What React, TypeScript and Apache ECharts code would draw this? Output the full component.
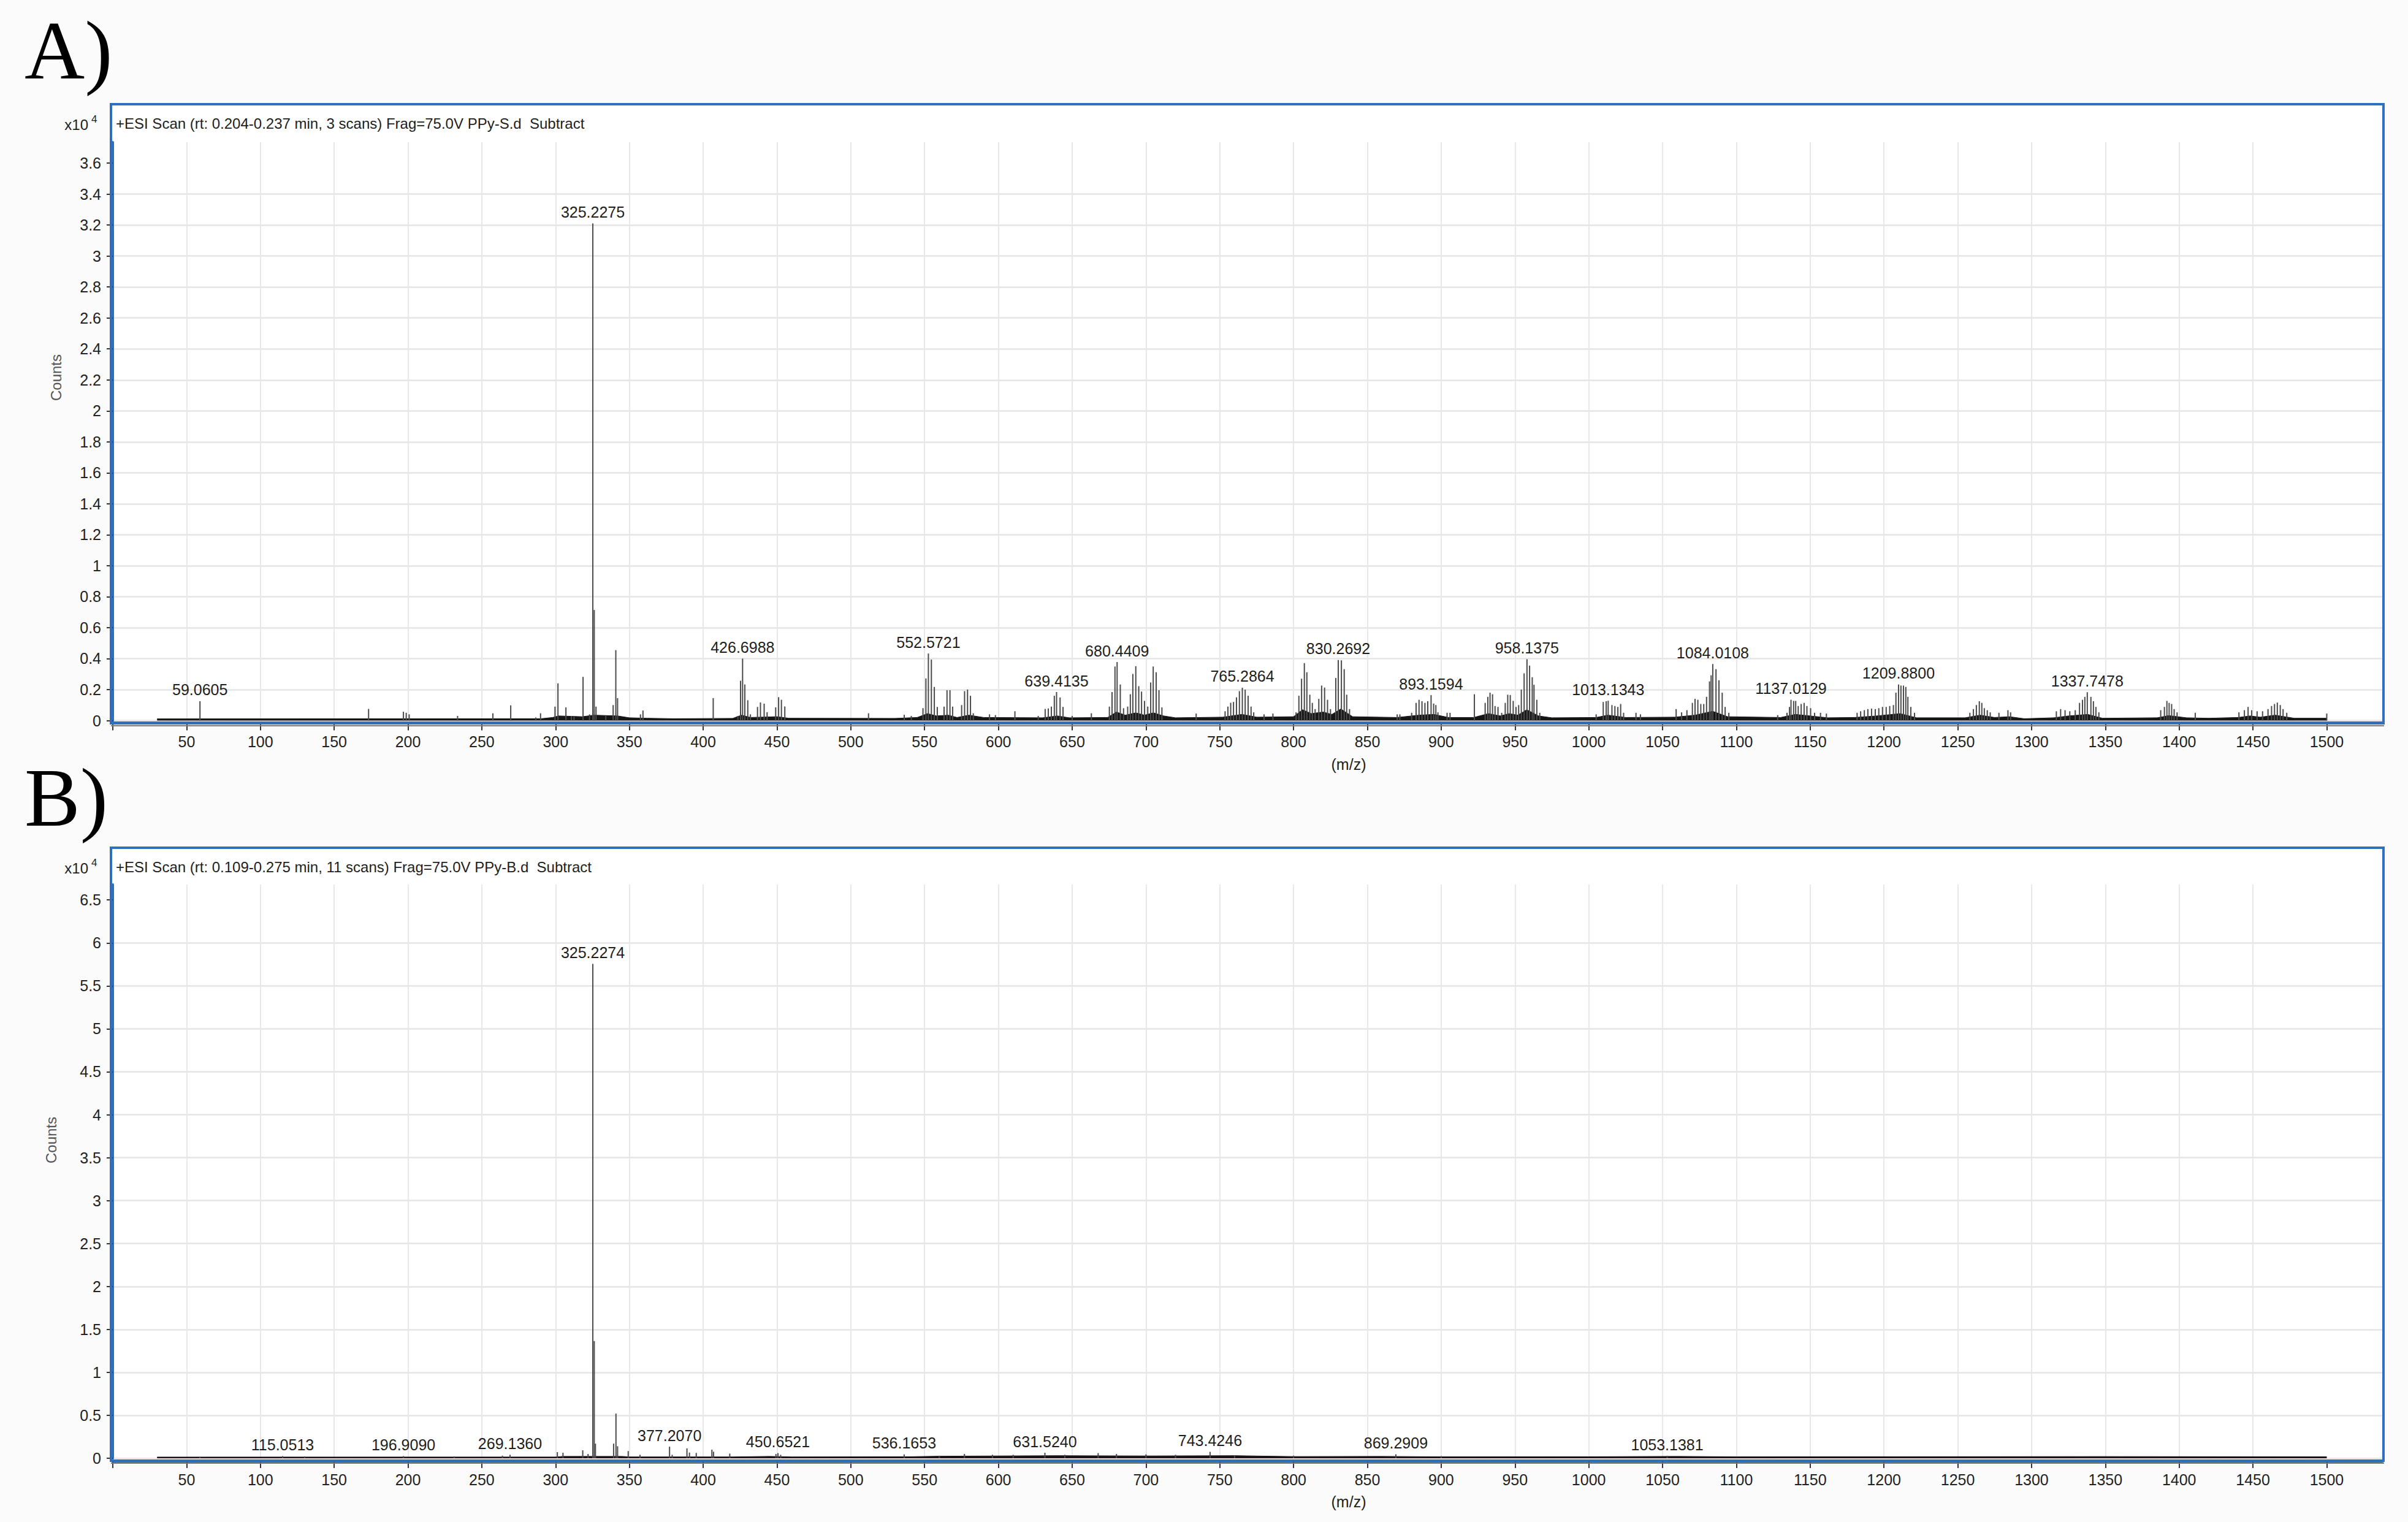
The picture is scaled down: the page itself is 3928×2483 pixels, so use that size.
import React, { useEffect, useRef } from "react";
import * as echarts from "echarts";

// ---------- tick labels ----------
const xTicks = [0, 50, 100, 150, 200, 250, 300, 350, 400, 450, 500, 550, 600, 650, 700, 750, 800, 850, 900, 950, 1000, 1050, 1100, 1150, 1200, 1250, 1300, 1350, 1400, 1450, 1500];
const yTicksA = [0, 0.2, 0.4, 0.6, 0.8, 1, 1.2, 1.4, 1.6, 1.8, 2, 2.2, 2.4, 2.6, 2.8, 3, 3.2, 3.4, 3.6];
const yTicksB = [0, 0.5, 1, 1.5, 2, 2.5, 3, 3.5, 4, 4.5, 5, 5.5, 6, 6.5];

const titleA = "+ESI Scan (rt: 0.204-0.237 min, 3 scans) Frag=75.0V PPy-S.d  Subtract";
const titleB = "+ESI Scan (rt: 0.109-0.275 min, 11 scans) Frag=75.0V PPy-B.d  Subtract";

// ---------- spectrum A (x10^4 counts) ----------
const lowMassA = [[59.0605, 0.125], [173.3, 0.075], [196.9, 0.057], [198.8, 0.05], [200.8, 0.04], [233.6, 0.03], [257.5, 0.047], [269.6, 0.098], [286.6, 0.02], [289.8, 0.047], [299.6, 0.09], [301.6, 0.24], [307, 0.085], [310.7, 0.03], [312.5, 0.03], [318.6, 0.282], [323, 0.04], [325.2275, 3.21], [326.2, 0.714], [327.4, 0.09], [334, 0.03], [339, 0.1], [340.8, 0.455], [342, 0.145], [357.5, 0.04], [359.2, 0.065], [406.8, 0.145]];
const clusterA426 = [[423.5, 0.03], [425.3, 0.257], [426.6988, 0.4], [428.2, 0.233], [430.2, 0.131], [432, 0.04], [436.8, 0.088], [438.8, 0.117], [441.3, 0.109], [443.3, 0.054], [449.1, 0.085], [451.1, 0.151], [453, 0.134], [455.3, 0.091]];
const clusterA552 = [[512, 0.047], [536.2, 0.037], [541, 0.03], [548.9, 0.08], [550.9, 0.272], [552.5721, 0.433], [554.6, 0.394], [556.6, 0.217], [558.6, 0.088], [563.2, 0.09], [565.2, 0.196], [567.2, 0.196], [569, 0.09], [575.1, 0.1], [577.1, 0.19], [579.1, 0.2], [581.1, 0.16], [583, 0.047], [594, 0.04], [598, 0.035], [611.2, 0.06]];
const clusterA639 = [[627, 0.03], [631.7, 0.075], [633.8, 0.078], [635.9, 0.09], [637.9, 0.16], [639.4135, 0.184], [641.8, 0.149], [643.8, 0.088], [650, 0.03], [663, 0.047]];
const clusterA680 = [[675.2, 0.09], [677, 0.184], [679, 0.349], [680.4409, 0.378], [682.6, 0.233], [684.8, 0.08], [687.6, 0.09], [689.4, 0.17], [691.1, 0.301], [693.1, 0.351], [695.1, 0.222], [697, 0.187], [699, 0.127], [701.2, 0.09], [703.2, 0.246], [704.9, 0.349], [706.9, 0.312], [708.8, 0.196], [710.8, 0.085], [734, 0.045]];
const clusterA765 = [[753.6, 0.06], [755.5, 0.09], [757.4, 0.115], [759.3, 0.12], [761.3, 0.15], [763.3, 0.19], [765.2864, 0.212], [767.2, 0.2], [769.2, 0.16], [771.2, 0.09], [773, 0.053], [780, 0.04], [786, 0.045]];
const clusterA830 = [[801.7, 0.053], [803.6, 0.16], [805.4, 0.27], [807.3, 0.371], [809, 0.312], [811, 0.167], [812.7, 0.114], [814.6, 0.074], [817.1, 0.14], [819, 0.226], [821, 0.213], [823, 0.134], [825, 0.074], [828.6, 0.275], [830.2692, 0.391], [832.4, 0.389], [834.3, 0.332], [836, 0.167], [837.9, 0.074]];
const clusterA893 = [[870.2, 0.04], [872, 0.04], [880, 0.05], [883, 0.114], [885, 0.134], [887, 0.125], [889, 0.114], [890.9, 0.125], [893.1594, 0.164], [894.9, 0.11], [896.4, 0.1], [897.8, 0.053], [904, 0.05], [906, 0.05]];
const clusterA958 = [[922.5, 0.17], [929.8, 0.114], [931.6, 0.153], [933.1, 0.18], [934.8, 0.17], [936.5, 0.094], [938.5, 0.088], [941, 0.05], [943.4, 0.114], [945.1, 0.167], [946.8, 0.165], [948.8, 0.127], [950.7, 0.088], [952.5, 0.1], [954.3, 0.2], [956.2, 0.305], [958.1375, 0.396], [959.9, 0.355], [961.7, 0.28], [962.9, 0.231], [964.8, 0.134], [966.8, 0.05]];
const clusterA1013 = [[1005, 0.04], [1009.8, 0.12], [1011.8, 0.125], [1013.1343, 0.128], [1015.7, 0.1], [1017.7, 0.094], [1019.7, 0.088], [1021.6, 0.107], [1023.6, 0.05], [1032, 0.05], [1035, 0.04]];
const clusterA1084 = [[1059.2, 0.074], [1062.9, 0.053], [1066.5, 0.067], [1070.2, 0.114], [1072, 0.14], [1073.9, 0.134], [1075.9, 0.107], [1077.9, 0.107], [1079.8, 0.153], [1081.8, 0.253], [1082.9, 0.292], [1084.0108, 0.365], [1086.2, 0.332], [1088.2, 0.26], [1090.4, 0.18], [1092.4, 0.088], [1094.9, 0.05]];
const clusterA1137 = [[1128, 0.035], [1134.3, 0.05], [1136, 0.088], [1137.0129, 0.134], [1138.8, 0.127], [1140.2, 0.127], [1141.9, 0.094], [1143.9, 0.107], [1145.9, 0.114], [1147.8, 0.094], [1150.3, 0.08], [1153, 0.05], [1157, 0.05], [1161, 0.045]];
const clusterA1209 = [[1181.8, 0.05], [1184.2, 0.06], [1186.7, 0.067], [1189.1, 0.074], [1191.6, 0.077], [1194.1, 0.074], [1196.5, 0.08], [1199, 0.088], [1201.5, 0.088], [1203.9, 0.094], [1206.4, 0.1], [1208.1, 0.18], [1209.88, 0.233], [1211.5, 0.226], [1213.2, 0.226], [1214.8, 0.217], [1216.2, 0.153], [1218.2, 0.088], [1220.7, 0.05]];
const clusterA1265 = [[1258.2, 0.05], [1260.6, 0.074], [1262.6, 0.1], [1264.6, 0.125], [1266.3, 0.114], [1268, 0.08], [1270, 0.067], [1272, 0.053], [1277.9, 0.05], [1284, 0.067], [1285.8, 0.053]];
const clusterA1337 = [[1316.8, 0.06], [1319.7, 0.074], [1322.7, 0.067], [1325.9, 0.06], [1329.6, 0.067], [1332.5, 0.114], [1334.5, 0.134], [1336.1, 0.153], [1337.7478, 0.183], [1340.2, 0.153], [1341.9, 0.125], [1343.6, 0.088], [1345.6, 0.053]];
const clusterA1392 = [[1387.5, 0.067], [1390, 0.088], [1391.7, 0.127], [1393.2, 0.114], [1394.9, 0.107], [1396.6, 0.074], [1398.6, 0.053], [1410.9, 0.05]];
const clusterA1460 = [[1440.5, 0.053], [1444.2, 0.067], [1446.7, 0.088], [1449.1, 0.067], [1452.8, 0.06], [1456.5, 0.06], [1460.2, 0.074], [1462.6, 0.094], [1464.6, 0.107], [1466.5, 0.116], [1468.5, 0.1], [1470.4, 0.074], [1472.9, 0.05], [1500, 0.045]];

const labelsA = [59.0605, 325.2275, 426.6988, 552.5721, 639.4135, 680.4409, 765.2864, 830.2692, 893.1594, 958.1375, 1013.1343, 1084.0108, 1137.0129, 1209.88, 1337.7478];

// baseline noise envelope of spectrum A
const noiseA = [[30, 0.011], [290, 0.012], [298, 0.02], [302, 0.03], [318, 0.025], [326, 0.035], [342, 0.03], [350, 0.018], [362, 0.015], [380, 0.012], [420, 0.014], [426, 0.035], [432, 0.02], [450, 0.025], [458, 0.015], [530, 0.014], [545, 0.02], [552, 0.045], [558, 0.03], [566, 0.035], [572, 0.02], [580, 0.035], [590, 0.02], [630, 0.018], [640, 0.03], [648, 0.018], [674, 0.02], [680, 0.055], [686, 0.035], [693, 0.05], [699, 0.035], [705, 0.05], [712, 0.03], [720, 0.018], [752, 0.022], [765, 0.04], [775, 0.022], [800, 0.025], [806, 0.07], [812, 0.045], [820, 0.055], [826, 0.04], [832, 0.075], [840, 0.025], [870, 0.02], [885, 0.035], [895, 0.04], [905, 0.02], [922, 0.02], [932, 0.045], [940, 0.03], [946, 0.045], [952, 0.035], [958, 0.07], [966, 0.03], [975, 0.018], [1005, 0.02], [1013, 0.035], [1025, 0.02], [1058, 0.022], [1072, 0.035], [1084, 0.06], [1094, 0.025], [1130, 0.02], [1140, 0.04], [1150, 0.03], [1162, 0.018], [1180, 0.02], [1195, 0.03], [1211, 0.045], [1222, 0.018], [1255, 0.018], [1265, 0.035], [1275, 0.02], [1285, 0.025], [1295, 0.012], [1315, 0.018], [1325, 0.03], [1338, 0.04], [1348, 0.015], [1385, 0.018], [1393, 0.032], [1405, 0.018], [1420, 0.015], [1440, 0.02], [1448, 0.03], [1455, 0.022], [1465, 0.035], [1478, 0.015], [1500, 0.015]];

// ---------- spectrum B (x10^4 counts) ----------
const peaksB = [[59, 0.015], [115.0513, 0.025], [130, 0.02], [196.909, 0.025], [231.3, 0.02], [264, 0.03], [269.136, 0.04], [301.2, 0.071], [305, 0.064], [318.4, 0.093], [322, 0.05], [325.2274, 5.755], [326.2, 1.365], [327, 0.17], [339.3, 0.17], [340.9, 0.52], [342, 0.14], [349.2, 0.084], [357.2, 0.04], [377.207, 0.135], [379, 0.04], [389, 0.115], [390.7, 0.066], [395.3, 0.062], [405.9, 0.1], [407, 0.076], [418, 0.054], [449.3, 0.05], [450.6521, 0.06], [452.5, 0.04], [536.1653, 0.045], [560, 0.03], [577, 0.05], [596, 0.04], [610, 0.04], [631.524, 0.064], [645, 0.04], [667.6, 0.06], [680, 0.05], [700, 0.045], [720, 0.04], [743.4246, 0.075], [760, 0.035], [800, 0.03], [869.2909, 0.046], [900, 0.025], [1053.1381, 0.028]];
const labelsB = [115.0513, 196.909, 269.136, 325.2274, 377.207, 450.6521, 536.1653, 631.524, 743.4246, 869.2909, 1053.1381];
const noiseB = [[30, 0.014], [300, 0.015], [305, 0.022], [345, 0.022], [350, 0.016], [420, 0.016], [445, 0.022], [460, 0.016], [540, 0.018], [560, 0.024], [600, 0.027], [640, 0.03], [700, 0.027], [760, 0.03], [800, 0.02], [860, 0.022], [900, 0.017], [1000, 0.018], [1060, 0.022], [1100, 0.017], [1350, 0.02], [1500, 0.017]];

const peaksA = [...lowMassA, ...clusterA426, ...clusterA552, ...clusterA639, ...clusterA680, ...clusterA765, ...clusterA830, ...clusterA893, ...clusterA958, ...clusterA1013, ...clusterA1084, ...clusterA1137, ...clusterA1209, ...clusterA1265, ...clusterA1337, ...clusterA1392, ...clusterA1460];

const FONT = '"Liberation Sans", Arial, sans-serif';
const SERIF = '"Liberation Serif", "Times New Roman", serif';
const BLUE = "#2e6fc0";

function tickFmt(list: number[]) {
  return (v: number) => {
    const t = list.find((x) => Math.abs(x - v) < 1e-6);
    return t === undefined ? "" : String(t);
  };
}

function makeX(gridIndex: number) {
  return {
    type: "value",
    gridIndex,
    min: 0,
    max: 1537.6,
    interval: 50,
    offset: 4,
    axisLine: { show: true, onZero: false, lineStyle: { color: BLUE, width: 5 } },
    axisTick: { show: true, length: 12, customValues: xTicks, lineStyle: { color: "#333", width: 2 } },
    axisLabel: {
      fontSize: 25,
      color: "#222",
      margin: 18,
      fontFamily: FONT,
      formatter: (v: number) => (v > 0 ? tickFmt(xTicks)(v) : ""),
    },
    splitLine: { show: true, showMinLine: false, showMaxLine: false, lineStyle: { color: "#e8e8e8", width: 2 } },
  };
}

function makeY(gridIndex: number, max: number, interval: number, ticks: number[]) {
  return {
    type: "value",
    gridIndex,
    min: 0,
    max,
    interval,
    offset: 3,
    axisLine: { show: true, lineStyle: { color: BLUE, width: 4 } },
    axisTick: { show: true, length: 10, customValues: ticks, lineStyle: { color: "#333", width: 2 } },
    axisLabel: { fontSize: 25, color: "#222", margin: 16, fontFamily: FONT, formatter: tickFmt(ticks) },
    splitLine: { show: true, showMaxLine: false, lineStyle: { color: "#e4e4e4", width: 2.5 } },
  };
}

function barData(peaks: number[][], labels: number[]) {
  return peaks.map((p) =>
    labels.includes(p[0]) ? { value: p, label: { show: true } } : p
  );
}

function peakSeries(idx: number, peaks: number[][], labels: number[]) {
  return {
    type: "bar",
    xAxisIndex: idx,
    yAxisIndex: idx,
    barWidth: 2,
    data: barData(peaks, labels),
    itemStyle: { color: "#4a4a4a" },
    z: 4,
    label: {
      show: false,
      position: "top",
      distance: 6,
      fontSize: 25,
      color: "#1e1e1e",
      fontFamily: FONT,
      formatter: (p: any) => Number(p.value[0]).toFixed(4),
    },
  };
}

function noiseSeries(idx: number, data: number[][]) {
  return {
    type: "line",
    xAxisIndex: idx,
    yAxisIndex: idx,
    data,
    symbol: "none",
    lineStyle: { color: "#151515", width: 1 },
    areaStyle: { color: "#151515", opacity: 1 },
    z: 3,
  };
}

function panelGraphics(top: number, bottom: number, letter: string, letterY: number, title: string, countsX: number, countsY: number, mzY: number) {
  return [
    { type: "rect", z: -5, shape: { x: 181, y: top, width: 3707, height: bottom - top }, style: { fill: "#ffffff" } },
    { type: "rect", z: 50, shape: { x: 181, y: top, width: 3707, height: bottom - top }, style: { fill: "none", stroke: BLUE, lineWidth: 4 } },
    { type: "line", z: 50, shape: { x1: 181, y1: bottom + 4, x2: 3889, y2: bottom + 4 }, style: { stroke: "#7a7a7a", lineWidth: 2 } },
    { type: "text", x: 40, y: letterY, style: { text: letter, fontSize: 136, fontFamily: SERIF, fill: "#000", align: "left", verticalAlign: "middle" } },
    { type: "text", x: 189, y: top + 31, style: { text: title, fontSize: 24, fontFamily: FONT, fill: "#1e1e1e", align: "left", verticalAlign: "middle" } },
    { type: "text", x: 144, y: top + 33, style: { text: "x10", fontSize: 24, fontFamily: FONT, fill: "#1e1e1e", align: "right", verticalAlign: "middle" } },
    { type: "text", x: 149, y: top + 24, style: { text: "4", fontSize: 17, fontFamily: FONT, fill: "#1e1e1e", align: "left", verticalAlign: "middle" } },
    { type: "text", x: countsX, y: countsY, rotation: Math.PI / 2, style: { text: "Counts", fontSize: 24, fontFamily: FONT, fill: "#555", align: "center", verticalAlign: "middle" } },
    { type: "text", x: 2200, y: mzY, style: { text: "(m/z)", fontSize: 25, fontFamily: FONT, fill: "#222", align: "center", verticalAlign: "middle" } },
  ];
}

export default function App() {
  const ref = useRef<HTMLDivElement>(null);
  useEffect(() => {
    if (!ref.current) return;
    const chart = echarts.init(ref.current, undefined, { renderer: "svg" });
    chart.setOption({
      animation: false,
      backgroundColor: "#fbfbfb",
      textStyle: { fontFamily: FONT },
      grid: [
        { left: 184, top: 232, width: 3702, height: 943.5, containLabel: false, outerBoundsMode: "none" },
        { left: 184, top: 1443, width: 3702, height: 936, containLabel: false, outerBoundsMode: "none" },
      ],
      xAxis: [makeX(0), makeX(1)],
      yAxis: [makeY(0, 3.735, 0.2, yTicksA), makeY(1, 6.68, 0.5, yTicksB)],
      series: [
        noiseSeries(0, noiseA),
        peakSeries(0, peaksA, labelsA),
        noiseSeries(1, noiseB),
        peakSeries(1, peaksB, labelsB),
      ],
      graphic: [
        ...panelGraphics(170, 1180, "A)", 82, titleA, 91, 616, 1247),
        ...panelGraphics(1383, 2383, "B)", 1301, titleB, 83, 1860, 2450),
      ],
    });
    return () => chart.dispose();
  }, []);
  return <div ref={ref} style={{ position: "absolute", left: 0, top: 0, width: 3928, height: 2483 }} />;
}
